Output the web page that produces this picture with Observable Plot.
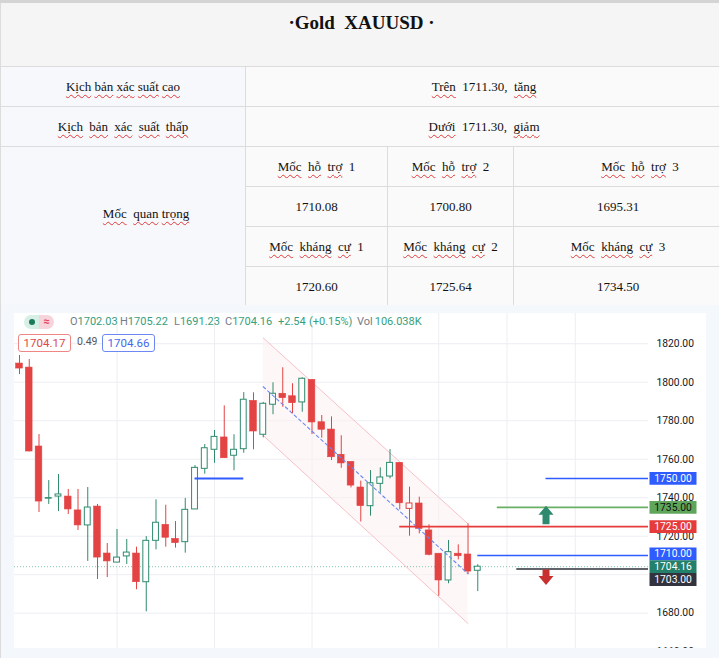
<!DOCTYPE html>
<html><head><meta charset="utf-8">
<script src="https://cdn.jsdelivr.net/npm/d3@7"></script>
<script src="https://cdn.jsdelivr.net/npm/@observablehq/plot@0.6"></script>
<style>
body{margin:0;width:719px;height:658px;overflow:hidden;background:#fff;position:relative;}
#tbl{position:absolute;left:0;top:0;border-collapse:collapse;table-layout:fixed;width:722px;font-family:"Liberation Serif","Times New Roman",serif;}
#tbl td{border:1px solid #dcdcdc;text-align:center;vertical-align:middle;font-size:13px;color:#111;padding:0;background:#fafafa;white-space:nowrap;}
#tbl td.c1{background:#f6f8fc;}
#tbl td.title{background:#f5f5f5;vertical-align:top;font-weight:bold;font-size:19px;padding-top:9px;border-top:3px solid #d4d4d4;}
.sp{text-decoration:underline wavy #e03a3a;text-decoration-thickness:1px;text-underline-offset:3px;}
#chartbox{position:absolute;left:0;top:305px;width:719px;height:353px;background:#f4f7fc;border-left:1px solid #dcdcdc;box-sizing:border-box;}
#panel{position:absolute;left:14px;top:313px;width:692px;height:335px;background:#fff;overflow:hidden;}
#legend{position:absolute;left:14px;top:313px;width:692px;height:45px;font-family:Roboto,"Noto Sans",sans-serif;font-size:11px;pointer-events:none;}
#legend .g{position:absolute;top:2px;line-height:14px;white-space:nowrap;}
#legend .k{color:#787b86;}
#legend .v{color:#36a07e;}
.pill{position:absolute;left:10px;top:2px;width:30px;height:14px;border-radius:7px;overflow:hidden;}
.pill .a{position:absolute;left:0;top:0;width:15px;height:14px;background:#d8efe6;}
.pill .b{position:absolute;left:15px;top:0;width:15px;height:14px;background:#f7d3db;color:#e2405e;font-size:11px;line-height:14px;text-align:center;font-weight:bold;}
.pill .dot{position:absolute;left:5px;top:4px;width:6px;height:6px;border-radius:3px;background:#1c7a5b;}
.box{position:absolute;top:21px;height:16px;line-height:16px;border:1px solid;border-radius:3px;text-align:center;font-size:11.5px;background:#fff;}
</style>
</head><body>
<table id="tbl">
<colgroup><col style="width:245px"><col style="width:142px"><col style="width:126px"><col style="width:209px"></colgroup>
<tbody id="tbody"></tbody>
</table>
<div id="chartbox"></div>
<div id="panel"></div>
<div id="legend"></div>
<script>
// ---------- table data ----------
const titleText = "·Gold  XAUUSD ·";
const scenarioLabels = ["Kịch bản xác suất cao", "Kịch bản xác suất thấp"];
const scenarioTexts = ["Trên  1711.30,  tăng", "Dưới  1711.30,  giảm"];
const keyLabel = "Mốc  quan trọng";
const supportLabels = ["Mốc  hỗ  trợ  1", "Mốc  hỗ  trợ  2", "Mốc  hỗ  trợ  3"];
const supportValues = ["1710.08", "1700.80", "1695.31"];
const resistLabels = ["Mốc  kháng  cự  1", "Mốc  kháng  cự  2", "Mốc  kháng  cự  3"];
const resistValues = ["1720.60", "1725.64", "1734.50"];

// ---------- chart data ----------
const opens  = [1809.7,1807.6,1766.6,1739.5,1740.6,1740.6,1733.4,1725.6,1735.4,1711.0,1706.3,1709.5,1711.0,1696.1,1717.6,1725.9,1718.6,1716.9,1733.9,1755.0,1764.9,1771.3,1761.8,1765.2,1790.3,1772.7,1788.3,1794.0,1792.7,1789.5,1801.2,1779.2,1775.4,1762.3,1758.6,1745.3,1735.6,1747.2,1751.0,1758.1,1734.2,1737.0,1723.0,1710.9,1697.0,1710.9,1710.5,1702.03];
const highs  = [1813.9,1811.8,1772.8,1748.9,1752.1,1744.3,1744.3,1745.3,1736.5,1716.2,1723.5,1718.3,1714.3,1719.8,1738.9,1736.1,1727.6,1739.6,1756.7,1767.6,1774.9,1787.7,1772.7,1794.6,1794.5,1789.5,1799.7,1807.5,1799.2,1802.3,1801.2,1782.7,1782.0,1772.2,1758.6,1748.6,1754.1,1755.5,1765.0,1758.1,1745.5,1740.3,1725.9,1710.9,1717.8,1715.5,1726.4,1705.22];
const lows   = [1804.0,1763.8,1732.3,1736.5,1732.8,1731.3,1723.0,1706.9,1697.5,1698.5,1706.3,1705.3,1692.2,1680.7,1712.9,1714.3,1713.8,1711.2,1733.9,1752.2,1757.9,1760.5,1754.0,1763.1,1764.9,1771.1,1783.1,1787.0,1783.6,1784.4,1772.8,1770.9,1759.3,1755.3,1745.1,1727.4,1730.4,1742.3,1749.8,1733.7,1720.0,1721.2,1709.8,1688.8,1695.3,1707.7,1700.1,1691.23];
const closes = [1807.1,1764.0,1738.0,1739.8,1741.7,1733.9,1725.6,1734.9,1708.9,1706.9,1708.9,1711.5,1696.1,1717.6,1727.0,1719.2,1716.4,1733.7,1755.5,1765.7,1771.6,1760.5,1764.9,1790.9,1774.4,1788.8,1794.0,1791.7,1789.1,1801.8,1779.1,1775.3,1761.0,1757.8,1746.3,1735.6,1747.5,1750.5,1758.1,1737.1,1737.0,1723.8,1710.3,1697.0,1711.7,1709.6,1701.62,1704.16];
const volumeText = "106.038K";
const bidPrice = 1704.17, askPrice = 1704.66;

const timeTicks = [10, 20, 30, 43, 50, 57];
const priceTicks = [1660, 1680, 1700, 1720, 1740, 1760, 1780, 1800, 1820];

const channelX = [25, 46];
const channelUpper = [1823.0, 1726.4];
const channelLower = [1772.3, 1674.6];

const zoneLevel = 1750, zoneStart = 18, zoneEnd = 23;
const levelValues = [1750, 1735, 1725, 1710, 1703];
const levelStarts = [54, 49, 39, 47, 51];
const arrowIndex = 54, arrowUpLevel = 1735, arrowDownLevel = 1703;

// ---------- styles ----------
const RED = "#e34343", GREEN = "#2f8a6e", BLUE = "#2f5cff";
const levelColors = [BLUE, "#68b065", "#e53b3b", BLUE, "#2d3039"];
const levelBg = [BLUE, "#5fa65b", "#e53b3b", BLUE, "#31343f"];
const levelText = ["#fff", "#111", "#fff", "#fff", "#fff"];

// ---------- build table ----------
function words(t){
  return t.split(/(\s+)/).map(w => (/\d/.test(w) || !/\S/.test(w) || /^[·]$/.test(w)) ? w.replace(/ /g,"&nbsp;") : `<span class="sp">${w}</span>`).join("");
}
const tb = document.getElementById("tbody");
let html = `<tr style="height:65px"><td class="title" colspan="4">${titleText.replace(/ /g,"&nbsp;")}</td></tr>`;
scenarioLabels.forEach((l,k)=>{
  html += `<tr style="height:40px"><td class="c1" style="word-spacing:${k?3:0}px">${words(l)}</td><td colspan="3">${words(scenarioTexts[k])}</td></tr>`;
});
html += `<tr style="height:40px"><td class="c1" rowspan="4" style="padding-left:46px;padding-bottom:26px">${words(keyLabel)}</td>` +
  supportLabels.map((l,k)=>`<td${k==2?' style="padding-left:44px"':''}>${words(l)}</td>`).join("") + `</tr>`;
html += `<tr style="height:40px">` + supportValues.map(v=>`<td>${v}</td>`).join("") + `</tr>`;
html += `<tr style="height:40px">` + resistLabels.map(l=>`<td>${words(l)}</td>`).join("") + `</tr>`;
html += `<tr style="height:40px">` + resistValues.map(v=>`<td>${v}</td>`).join("") + `</tr>`;
tb.innerHTML = html;

// ---------- candles ----------
const candles = opens.map((o,i)=>({i, open:o, high:highs[i], low:lows[i], close:closes[i]}));
candles.forEach((d,k)=>{
  d.hollow = d.close > d.open;
  d.up = k ? d.close >= candles[k-1].close : d.close >= d.open;
  d.color = d.up ? GREEN : RED;
});
const last = candles[candles.length-1];
const prevClose = candles[candles.length-2].close;

const channel = channelX.map((x,k)=>({x, upper: channelUpper[k], lower: channelLower[k]}));

const X_DOMAIN = [-0.513, 64.51];
const Y_DOMAIN = [1661.66, 1835.7];
const H = 335, W = 692, MR = 58;
const pxPerUnit = H / (Y_DOMAIN[1]-Y_DOMAIN[0]);
const gap = 12.8 / pxPerUnit;

const levels = levelValues.map((v,k)=>({value:v, start:levelStarts[k], color:levelColors[k], bg:levelBg[k], fg:levelText[k]}));
// price labels on the axis, pushed apart from the current price label
let labels = levels.map(d=>({value:d.value, bg:d.bg, fg:d.fg}));
labels.push({value:last.close, bg:"#23806b", fg:"#fff", fixed:true});
const cur = last.close;
const above = labels.filter(d=>d.value>cur).sort((a,b)=>a.value-b.value);
const below = labels.filter(d=>d.value<cur).sort((a,b)=>b.value-a.value);
let p = cur; above.forEach(d=>{ d.pos = Math.max(d.value, p+gap); p = d.pos; });
p = cur; below.forEach(d=>{ d.pos = Math.min(d.value, p-gap); p = d.pos; });
labels.forEach(d=>{ if (d.fixed) d.pos = d.value; });

const upArrow = {draw(ctx){ ctx.moveTo(0,-1.5); ctx.lineTo(7.5,7.5); ctx.lineTo(3.5,7.5); ctx.lineTo(3.5,17); ctx.lineTo(-3.5,17); ctx.lineTo(-3.5,7.5); ctx.lineTo(-7.5,7.5); ctx.closePath(); }};
const downArrow = {draw(ctx){ ctx.moveTo(-3.5,0.5); ctx.lineTo(3.5,0.5); ctx.lineTo(3.5,7); ctx.lineTo(7.5,7); ctx.lineTo(0,16); ctx.lineTo(-7.5,7); ctx.lineTo(-3.5,7); ctx.closePath(); }};
const labelBox = {draw(ctx){ ctx.rect(1, -6.4, 47, 12.8); }};

const XMAX = X_DOMAIN[1];
const chart = Plot.plot({
  width: W, height: H,
  marginLeft: 0, marginRight: MR, marginTop: 0, marginBottom: 0,
  x: {type:"linear", domain: X_DOMAIN, axis: null},
  y: {type:"linear", domain: Y_DOMAIN, axis: null},
  style: {background:"#fff", fontFamily:"Roboto, 'Noto Sans', sans-serif", color:"#131722", overflow:"hidden"},
  marks: [
    Plot.ruleY(priceTicks, {stroke:"#eceef2", strokeWidth:1}),
    Plot.ruleX(timeTicks, {stroke:"#eceef2", strokeWidth:1}),
    Plot.areaY(channel, {x:"x", y1:"lower", y2:"upper", fill:"#fdf1f3", fillOpacity:0.6, curve:"linear"}),
    Plot.line(channel, {x:"x", y:"upper", stroke:"#f7c0c7", strokeWidth:1}),
    Plot.line(channel, {x:"x", y:"lower", stroke:"#f7c0c7", strokeWidth:1}),
    Plot.ruleY([last.close], {stroke:"#82c4ad", strokeWidth:1, strokeDasharray:"1,2"}),
    Plot.ruleX(candles, {x:"i", y1:"low", y2:"high", stroke:"color", strokeWidth:1}),
    Plot.rect(candles.filter(d=>!d.hollow), {x1:d=>d.i-0.34, x2:d=>d.i+0.34, y1:"open", y2:"close", fill:"color", stroke:"color", strokeWidth:0.6}),
    Plot.rect(candles.filter(d=>d.hollow), {x1:d=>d.i-0.3, x2:d=>d.i+0.3, y1:"open", y2:"close", fill:"#fff", stroke:"color", strokeWidth:1}),
    Plot.line(channel, {x:"x", y:d=>(d.upper+d.lower)/2, stroke:"#6a88f2", strokeWidth:1.1, strokeDasharray:"3,3"}),
    Plot.ruleY([{y:zoneLevel, x1:zoneStart, x2:zoneEnd}], {y:"y", x1:"x1", x2:"x2", stroke:BLUE, strokeWidth:2}),
    Plot.ruleY(levels, {y:"value", x1:"start", x2:()=>XMAX, stroke:"color", strokeWidth:1.6}),
    Plot.dot([{x:arrowIndex, y:arrowUpLevel}], {x:"x", y:"y", symbol:upArrow, r:5, fill:"#2e8a6f", stroke:"none"}),
    Plot.dot([{x:arrowIndex, y:arrowDownLevel}], {x:"x", y:"y", symbol:downArrow, r:5, fill:"#c83030", stroke:"none"}),
    Plot.text(priceTicks, {x:()=>XMAX, y:d=>d, text:d=>d.toFixed(2), dx:8, textAnchor:"start", fontSize:10.3, fill:"#131722"}),
    Plot.dot(labels, {x:()=>XMAX, y:"pos", symbol:labelBox, r:5, fill:"bg", stroke:"none"}),
    Plot.text(labels, {x:()=>XMAX, y:"pos", text:d=>d.value.toFixed(2), dx:24.5, textAnchor:"middle", fontSize:10.3, fill:"fg"})
  ]
});
document.getElementById("panel").appendChild(chart);

// ---------- legend ----------
const chg = last.close - prevClose;
const pct = chg / prevClose * 100;
const lg = document.getElementById("legend");
const groups = [
  [56, `<span class="k">O</span><span class="v">${last.open.toFixed(2)}</span>`],
  [106, `<span class="k">H</span><span class="v">${last.high.toFixed(2)}</span>`],
  [160, `<span class="k">L</span><span class="v">${last.low.toFixed(2)}</span>`],
  [211, `<span class="k">C</span><span class="v">${last.close.toFixed(2)}</span>`],
  [264, `<span class="v">${chg>=0?"+":""}${chg.toFixed(2)}</span>`],
  [295, `<span class="v">(${chg>=0?"+":""}${pct.toFixed(2)}%)</span>`],
  [343, `<span class="k">Vol</span><span class="v" style="margin-left:2px">${volumeText}</span>`]
];
let lh = `<div class="pill"><div class="a"><div class="dot"></div></div><div class="b">≈</div></div>`;
groups.forEach(([x,h])=>{ lh += `<div class="g" style="left:${x}px">${h}</div>`; });
lh += `<div class="box" style="left:4px;width:51px;border-color:#f08585;color:#e04848">${bidPrice.toFixed(2)}</div>`;
lh += `<div class="g" style="left:63px;top:22px;color:#555;font-size:10.5px">${(askPrice-bidPrice).toFixed(2)}</div>`;
lh += `<div class="box" style="left:88px;width:51px;border-color:#6d88f3;color:#4468ef">${askPrice.toFixed(2)}</div>`;
lg.innerHTML = lh;
</script>
</body></html>
